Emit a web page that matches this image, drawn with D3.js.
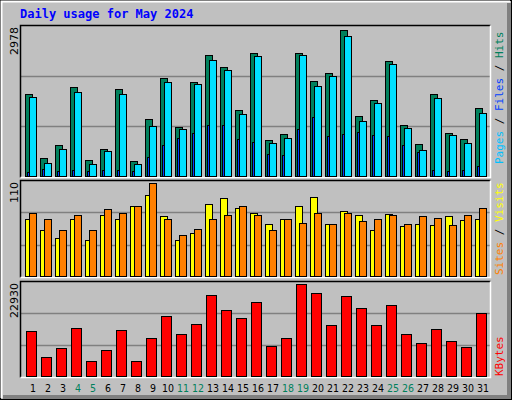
<!DOCTYPE html>
<html><head><meta charset="utf-8">
<script src="https://cdn.jsdelivr.net/npm/d3@7"></script>
<style>body{margin:0;background:#fff}</style>
</head><body>
<script>
var days = d3.range(1, 32);
var weekend = [4, 5, 11, 12, 18, 19, 25, 26];
var hits = [1656,355,631,1795,316,552,1755,296,1144,1972,986,1893,2426,2189,1321,2485,730,848,2485,1913,2071,2930,1203,1538,2307,1025,651,1656,868,749,1361];
var files = [1597,256,552,1696,237,513,1656,237,1006,1893,947,1854,2327,2130,1242,2406,670,769,2426,1814,2011,2820,1104,1459,2248,966,532,1578,828,670,1262];
var pages = [79,138,99,118,99,118,118,99,375,631,769,868,1025,1025,749,690,434,414,947,1183,809,848,887,828,809,631,473,118,99,118,197];
var sites = [68,55,45,68,43,72,68,83,96,71,43,51,85,92,80,74,61,68,83,93,62,77,72,55,73,59,62,60,71,66,67];
var visits = [75,68,55,72,54,79,74,83,110,68,49,56,68,72,83,72,55,68,63,75,62,75,65,67,72,62,71,69,60,72,81];
var kbytes = [11131,4854,6862,11884,3850,6360,11382,3850,9373,14897,10378,12888,20169,16403,14395,18412,7365,9373,22930,20671,12637,19918,16905,12637,17659,10378,8118,11633,8620,7114,15650];
var maxLabels = ['2978', '110', '22930'];

var svg = d3.select('body').append('svg').attr('width', 512).attr('height', 400);
svg.append('rect').attr('width', 512).attr('height', 400).attr('fill', '#c0c0c0');
svg.append('rect').attr('x', 0.5).attr('y', 0.5).attr('width', 511).attr('height', 399).attr('fill', 'none').attr('stroke', '#000');
svg.append('path').attr('d', 'M1.5,398V1.5H510').attr('fill', 'none').attr('stroke', '#fff').attr('stroke-width', 2);
svg.append('path').attr('d', 'M509,3V397H3').attr('fill', 'none').attr('stroke', '#808080').attr('stroke-width', 4);

var mono = 'DejaVu Sans Mono, monospace';
svg.append('text').attr('x', 20).attr('y', 18).attr('fill', '#0000ff')
	.attr('font-family', mono).attr('font-weight', 'bold').attr('font-size', 12)
	.text('Daily usage for May 2024');

var x = d3.scaleBand().domain(days).range([22, 487]).padding(0);

function panel(top, bottom, max, label) {
	svg.append('rect').attr('x', 20.5).attr('y', top + 0.5).attr('width', 470).attr('height', bottom - top)
		.attr('fill', '#c0c0c0');
	var y = d3.scaleLinear().domain([0, max]).range([bottom - 1, top + 3]);
	[1, 2].forEach(function(k) {
		var gy = Math.round(bottom - (bottom - top) * k / 3) + 0.5;
		svg.append('line').attr('x1', 21).attr('x2', 490).attr('y1', gy).attr('y2', gy)
			.attr('stroke', '#808080').attr('stroke-width', 1.5);
	});
	svg.append('path').attr('d', 'M20.5,' + (bottom + 0.5) + 'V' + (top + 0.5) + 'H490.5')
		.attr('fill', 'none').attr('stroke', '#000').attr('stroke-width', 1.5);
	svg.append('path').attr('d', 'M490.5,' + (top + 0.5) + 'V' + (bottom + 0.5) + 'H20.5')
		.attr('fill', 'none').attr('stroke', '#fff').attr('stroke-width', 1.5);
	svg.append('text').attr('transform', 'translate(18,' + (top + 2) + ') rotate(-90)')
		.attr('text-anchor', 'end').attr('font-family', 'DejaVu Sans, sans-serif').attr('font-size', 11)
		.text(label);
	return y;
}

function bars(data, y, dx, w, color, bottom) {
	svg.append('g').selectAll('rect').data(data).enter().append('rect')
		.attr('x', function(d, i) { return x(days[i]) + dx + 0.5; })
		.attr('y', function(d) { return Math.round(y(d)) + 0.5; })
		.attr('width', w)
		.attr('height', function(d) { return bottom - 1 - Math.round(y(d)); })
		.attr('fill', color).attr('stroke', '#000').attr('stroke-width', 1);
}

var y1 = panel(25, 177, 2978, maxLabels[0]);
bars(hits, y1, 3, 7, '#00805c', 177);
bars(files, y1, 7, 7, '#00e0ff', 177);
bars(pages, y1, 5, 2, '#0040ff', 177);

var y2 = panel(180, 277, 110, maxLabels[1]);
bars(sites, y2, 3, 7, '#ffff00', 277);
bars(visits, y2, 7, 7, '#ff8000', 277);

var y3 = panel(281, 377, 22930, maxLabels[2]);
bars(kbytes, y3, 4, 10, '#ff0000', 377);

svg.append('g').selectAll('text').data(days).enter().append('text')
	.attr('x', function(d) { return x(d) + 11; })
	.attr('y', 392).attr('text-anchor', 'middle')
	.attr('font-family', 'DejaVu Sans Condensed, DejaVu Sans, sans-serif').attr('font-size', 10.5)
	.attr('fill', function(d) { return weekend.indexOf(d) >= 0 ? '#00805c' : '#000'; })
	.text(function(d) { return d; });

function sideLabel(yb, parts) {
	var t = svg.append('text').attr('transform', 'translate(503,' + yb + ') rotate(-90)')
		.attr('font-family', mono).attr('font-size', 11);
	parts.forEach(function(p) { t.append('tspan').attr('fill', p[1]).text(p[0]); });
}
sideLabel(164, [['Pages', '#00c0ff'], [' / ', '#000'], ['Files', '#0040ff'], [' / ', '#000'], ['Hits', '#00805c']]);
sideLabel(275, [['Sites', '#ff8000'], [' / ', '#000'], ['Visits', '#ffff00']]);
sideLabel(376, [['KBytes', '#ff0000']]);
</script>
</body></html>
